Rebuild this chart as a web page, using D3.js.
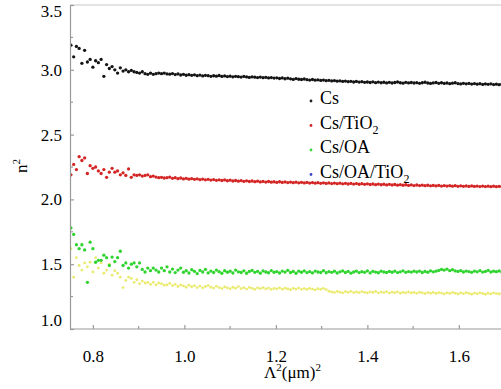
<!DOCTYPE html>
<html>
<head>
<meta charset="utf-8">
<script src="https://cdn.jsdelivr.net/npm/d3@7"></script>
<style>
body { margin: 0; background: #fff; }
svg { display: block; }
</style>
</head>
<body>
<div id="chart"></div>
<script>
// wavelength grid (Λ², µm²) the samples sit on
var xStart = 0.752, xStep = 0.006;

var cs = [
    3.19, 3.10, 3.18, 3.165, 3.05, 3.15, 3.06, 3.08, 3.02, 3.07,
    3.055, 3.08, 2.95, 3.04, 3.01, 3.025, 3.00, 2.975, 3.015, 2.99,
    3.00, 2.985, 2.995, 2.985, 2.98, 2.975, 2.985, 2.97, 2.965, 2.975,
    2.965, 2.97, 2.975, 2.97, 2.975, 2.968,
    2.966, 2.971, 2.963, 2.968, 2.960, 2.965, 2.958, 2.962, 2.957, 2.961,
    2.955, 2.959, 2.953, 2.957, 2.955, 2.950, 2.954, 2.951, 2.956, 2.949,
    2.953, 2.948, 2.951, 2.946, 2.950, 2.947, 2.944, 2.949, 2.945, 2.941,
    2.946, 2.943, 2.940, 2.944, 2.939, 2.942, 2.937, 2.940, 2.936, 2.938,
    2.933, 2.937, 2.931, 2.935, 2.930, 2.926, 2.932, 2.927, 2.925, 2.929,
    2.924, 2.921, 2.925, 2.920, 2.923, 2.918, 2.921, 2.916, 2.919, 2.914,
    2.917, 2.912, 2.915, 2.910, 2.913, 2.908, 2.911, 2.906, 2.910, 2.905,
    2.908, 2.903, 2.906, 2.902, 2.907, 2.901, 2.905, 2.900, 2.904, 2.899,
    2.903, 2.898, 2.902, 2.906, 2.900, 2.897, 2.903, 2.899, 2.902, 2.898,
    2.901, 2.896, 2.900, 2.904, 2.898, 2.895, 2.899, 2.902, 2.896, 2.900,
    2.895, 2.898, 2.893, 2.897, 2.900, 2.894, 2.891, 2.896, 2.892, 2.895,
    2.890, 2.894, 2.889, 2.893, 2.887, 2.891, 2.888, 2.892, 2.886, 2.889,
    2.885, 2.888, 2.884
];

var csTiO2 = [
    2.19, 2.27, 2.23, 2.33, 2.30, 2.32, 2.20, 2.26, 2.24, 2.25,
    2.22, 2.20, 2.23, 2.17, 2.21, 2.24, 2.21, 2.22, 2.19, 2.205,
    2.185, 2.235, 2.17, 2.19, 2.185, 2.19, 2.18, 2.185, 2.19, 2.175,
    2.18, 2.172, 2.168, 2.17, 2.165, 2.168,
    2.172, 2.163, 2.168, 2.160, 2.165, 2.158, 2.163, 2.156, 2.161, 2.155,
    2.159, 2.152, 2.157, 2.151, 2.155, 2.149, 2.153, 2.147, 2.151, 2.146,
    2.150, 2.144, 2.148, 2.142, 2.146, 2.141, 2.145, 2.139, 2.143, 2.138,
    2.142, 2.137, 2.141, 2.135, 2.139, 2.134, 2.138, 2.133, 2.136, 2.131,
    2.136, 2.131, 2.135, 2.130, 2.134, 2.129, 2.133, 2.128, 2.132, 2.127,
    2.131, 2.126, 2.130, 2.125, 2.129, 2.124, 2.128, 2.123, 2.127, 2.122,
    2.126, 2.121, 2.125, 2.120, 2.124, 2.119, 2.123, 2.118, 2.122, 2.117,
    2.121, 2.116, 2.120, 2.115, 2.119, 2.114, 2.118, 2.113, 2.117, 2.112,
    2.116, 2.111, 2.115, 2.110, 2.114, 2.109, 2.113, 2.108, 2.112, 2.107,
    2.111, 2.107, 2.110, 2.106, 2.109, 2.105, 2.108, 2.104, 2.108, 2.103,
    2.107, 2.103, 2.106, 2.102, 2.106, 2.101, 2.105, 2.101, 2.104, 2.100,
    2.104, 2.100, 2.103, 2.099, 2.103, 2.099, 2.102, 2.098, 2.102, 2.098,
    2.101, 2.097, 2.100
];

var csOA = [
    1.78, 1.73, 1.65, 1.62, 1.65, 1.61, 1.36, 1.67, 1.62, 1.515,
    1.53, 1.53, 1.57, 1.55, 1.49, 1.555, 1.52, 1.55, 1.60, 1.49,
    1.51, 1.47, 1.50, 1.51, 1.48, 1.51, 1.46, 1.44, 1.47, 1.45,
    1.47, 1.455, 1.44, 1.47, 1.45, 1.48,
    1.440, 1.462, 1.435, 1.455, 1.470, 1.438, 1.450, 1.432, 1.458, 1.445,
    1.428, 1.452, 1.440, 1.460, 1.433, 1.447, 1.436, 1.455, 1.442, 1.430,
    1.450, 1.438, 1.446, 1.432, 1.455, 1.441, 1.436, 1.449, 1.430, 1.444,
    1.452, 1.437, 1.445, 1.431, 1.448, 1.440, 1.434, 1.451, 1.438, 1.443,
    1.432, 1.447, 1.439, 1.453, 1.436, 1.444, 1.430, 1.446, 1.438, 1.449,
    1.435, 1.442, 1.433, 1.447, 1.440, 1.436, 1.450, 1.434, 1.443, 1.437,
    1.446, 1.432, 1.441, 1.448, 1.436, 1.444, 1.431, 1.440, 1.447, 1.435,
    1.442, 1.437, 1.449, 1.433, 1.445, 1.439, 1.434, 1.446, 1.440, 1.436,
    1.444, 1.438, 1.447, 1.435, 1.441, 1.449, 1.437, 1.443, 1.439, 1.446,
    1.440, 1.447, 1.436, 1.444, 1.438, 1.449, 1.441, 1.446, 1.452, 1.460,
    1.455, 1.462, 1.450, 1.458, 1.448, 1.444, 1.450, 1.440, 1.447, 1.443,
    1.437, 1.447, 1.441, 1.450, 1.439, 1.444, 1.452, 1.440, 1.446, 1.442,
    1.448, 1.440, 1.445
];

var csOATiO2 = [
    1.62, 1.40, 1.55, 1.49, 1.455, 1.51, 1.48, 1.515, 1.44, 1.55,
    1.47, 1.51, 1.43, 1.455, 1.50, 1.415, 1.45, 1.43, 1.40, 1.32,
    1.375, 1.40, 1.39, 1.36, 1.38, 1.35, 1.37, 1.355, 1.36, 1.345,
    1.36, 1.34, 1.355, 1.35, 1.338, 1.34,
    1.352, 1.335, 1.345, 1.328, 1.340, 1.332, 1.322, 1.338, 1.326, 1.334,
    1.320, 1.331, 1.318, 1.328, 1.335, 1.322, 1.316, 1.329, 1.320, 1.312,
    1.325, 1.318, 1.310, 1.322, 1.315, 1.327, 1.312, 1.319, 1.308, 1.321,
    1.314, 1.306, 1.318, 1.311, 1.320, 1.309, 1.316, 1.305, 1.313, 1.310,
    1.318, 1.307, 1.315, 1.309, 1.303, 1.314, 1.308, 1.316, 1.306, 1.312,
    1.305, 1.313, 1.308, 1.302, 1.311, 1.306, 1.314, 1.304, 1.292, 1.286,
    1.282, 1.290, 1.284, 1.279, 1.288, 1.283, 1.291, 1.280, 1.286, 1.281,
    1.289, 1.283, 1.278, 1.287, 1.282, 1.290, 1.279, 1.285, 1.281, 1.288,
    1.277, 1.284, 1.280, 1.287, 1.276, 1.283, 1.279, 1.286, 1.278, 1.282,
    1.275, 1.284, 1.279, 1.273, 1.281, 1.276, 1.283, 1.274, 1.280, 1.277,
    1.271, 1.279, 1.274, 1.282, 1.276, 1.270, 1.278, 1.273, 1.280, 1.275,
    1.269, 1.277, 1.272, 1.279, 1.274, 1.268, 1.276, 1.271, 1.278, 1.273,
    1.270, 1.276, 1.272
];

var legendNames = ["Cs", "Cs/TiO2", "Cs/OA", "Cs/OA/TiO2"];
var legendColors = ["#222", "#d42525", "#3ad63a", "#3b48c8"];

var xTicks = [0.8, 1.0, 1.2, 1.4, 1.6];
var xMinor = [0.9, 1.1, 1.3, 1.5, 1.7];
var yTicks = [1.0, 1.5, 2.0, 2.5, 3.0, 3.5];
var yMinor = [1.25, 1.75, 2.25, 2.75, 3.25];

var serif = "'Liberation Serif', 'DejaVu Serif', 'Times New Roman', serif";
var width = 501, height = 389;
var marginLeft = 70, plotTop = 5, plotBottom = 329;

var svg = d3.select('#chart').append('svg')
    .attr('width', width)
    .attr('height', height)
    .style('font-family', serif);

var xScale = d3.scaleLinear().domain([0.75, 1.7]).range([marginLeft, marginLeft + 0.95 * 457.5]);
var yScale = d3.scaleLinear().domain([1.0, 3.5]).range([plotBottom, plotTop]);

svg.append('clipPath').attr('id', 'plot-clip')
    .append('rect')
    .attr('x', marginLeft).attr('y', plotTop)
    .attr('width', width - marginLeft).attr('height', plotBottom - plotTop);

// frame: top border
svg.append('line')
    .attr('x1', marginLeft).attr('x2', width)
    .attr('y1', plotTop).attr('y2', plotTop)
    .attr('stroke', '#c8c8c8').attr('stroke-width', 1);

// points, back series first
var series = [
    {values: csOATiO2, color: "#e6e655", r: 1.4, opacity: 0.85},
    {values: csOA, color: "#2fd42f", r: 1.65, opacity: 1},
    {values: csTiO2, color: "#d42525", r: 1.65, opacity: 1},
    {values: cs, color: "#141414", r: 1.65, opacity: 1}
];

var plot = svg.append('g').attr('clip-path', 'url(#plot-clip)');
series.forEach(function(s) {
    plot.append('g').selectAll('circle')
        .data(s.values)
        .enter().append('circle')
            .attr('cx', function(d, i) { return xScale(xStart + i * xStep); })
            .attr('cy', function(d) { return yScale(d); })
            .attr('r', s.r)
            .style('fill', s.color)
            .style('opacity', s.opacity);
});

// axes
var xAxis = svg.append('g').attr('transform', 'translate(0,' + plotBottom + ')');
xAxis.call(d3.axisBottom(xScale).tickValues(xTicks).tickSizeInner(-4).tickSizeOuter(0).tickFormat(d3.format('.1f')));
xAxis.select('.domain').attr('stroke', '#9a9a9a').attr('d', 'M' + marginLeft + ',0H' + width);
xAxis.selectAll('.tick line').attr('stroke', '#9a9a9a');
xAxis.selectAll('.tick text')
    .attr('y', 21)
    .style('font-size', '17px');
xAxis.selectAll('.minor').data(xMinor).enter().append('line')
    .attr('class', 'minor')
    .attr('x1', function(d) { return xScale(d); })
    .attr('x2', function(d) { return xScale(d); })
    .attr('y1', 0).attr('y2', -3)
    .attr('stroke', '#9a9a9a');

var yAxis = svg.append('g').attr('transform', 'translate(' + marginLeft + ',0)');
yAxis.call(d3.axisLeft(yScale).tickValues(yTicks).tickSizeInner(-4).tickSizeOuter(0).tickFormat(d3.format('.1f')));
yAxis.select('.domain').attr('stroke', '#9a9a9a');
yAxis.selectAll('.tick line').attr('stroke', '#9a9a9a');
yAxis.selectAll('.tick text')
    .attr('x', -8)
    .attr('dy', function(d) {
        if (d == 3.5) return '0.65em';
        if (d == 1.0) return '-0.2em';
        return '0.32em';
    })
    .style('font-size', '17px');
yAxis.selectAll('.minor').data(yMinor).enter().append('line')
    .attr('class', 'minor')
    .attr('y1', function(d) { return yScale(d); })
    .attr('y2', function(d) { return yScale(d); })
    .attr('x1', 0).attr('x2', 3)
    .attr('stroke', '#9a9a9a');
svg.selectAll('.domain, .tick line, .minor').attr('stroke-width', 1.2);
svg.selectAll('.tick text').style('font-family', serif).attr('fill', '#000');
xAxis.attr('font-family', null);
yAxis.attr('font-family', null);

// axis titles
var xt = svg.append('text')
    .attr('x', 264).attr('y', 378)
    .style('font-family', serif)
    .style('font-size', '17px');
xt.append('tspan').text('Λ');
xt.append('tspan').attr('dy', -7).style('font-size', '11px').text('2');
xt.append('tspan').attr('dy', 7).text('(μm)');
xt.append('tspan').attr('dy', -7).style('font-size', '11px').text('2');

var yt = svg.append('text')
    .attr('transform', 'translate(27,166) rotate(-90)')
    .attr('text-anchor', 'middle')
    .style('font-family', serif)
    .style('font-size', '17px');
yt.append('tspan').text('n');
yt.append('tspan').attr('dy', -7).style('font-size', '11px').text('2');

// legend
var legend = svg.append('g').attr('transform', 'translate(311,104)');
legendNames.forEach(function(name, i) {
    var row = legend.append('g').attr('transform', 'translate(0,' + (i * 24.5) + ')');
    row.append('circle')
        .attr('cx', 0).attr('cy', -3)
        .attr('r', 1.4)
        .style('fill', legendColors[i]);
    var t = row.append('text').attr('x', 9)
        .style('font-family', serif)
        .style('font-size', '18px');
    var m = name.match(/^(.*TiO)2$/);
    if (m) {
        t.append('tspan').text(m[1]);
        t.append('tspan').attr('dy', 5).style('font-size', '12px').text('2');
    } else {
        t.text(name);
    }
});
</script>
</body>
</html>
